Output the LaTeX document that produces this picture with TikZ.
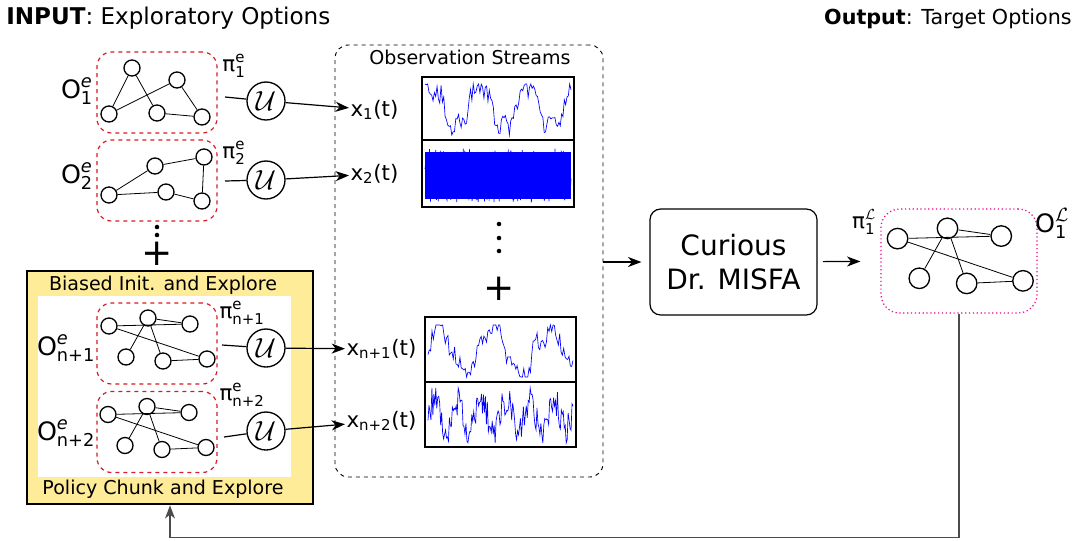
\documentclass[tikz,border=0pt]{standalone}
\usepackage{amsmath}
\usepackage{fontspec}
\setmainfont{DejaVu Sans}
\usetikzlibrary{arrows.meta, positioning, calc}

\definecolor{optred}{RGB}{214,26,34}
\definecolor{chunkyellow}{RGB}{255,236,153}
\newcommand{\optlbl}[3]{$\text{#1}^{\text{\itshape #2}}_{\text{#3}}$}

\begin{document}
\begin{tikzpicture}[x=0.75pt, y=-0.75pt,
    gnode/.style={circle, draw, line width=1pt, fill=white, minimum size=12pt, inner sep=0pt},
    gedge/.style={line width=0.6pt},
    optbox/.style={draw=optred, dashed, line width=0.9pt, rounded corners=11pt, minimum width=90pt, minimum height=60.75pt},
    ucirc/.style={circle, draw, line width=1pt, minimum size=28.5pt, inner sep=0pt, font=\fontsize{22}{22}\selectfont},
    flow/.style={-{Stealth[length=10pt, width=7.5pt, inset=3pt]}, line width=0.9pt},
    sig/.style={blue, line width=0.5pt},
    plotframe/.style={line width=1.4pt},
    olbl/.style={font=\fontsize{19}{22}\selectfont, inner sep=1pt},
    plbl/.style={font=\fontsize{16}{19}\selectfont, inner sep=1pt},
    captext/.style={font=\fontsize{14.3}{16}\selectfont, inner sep=1pt},
    plussign/.style={font=\fontsize{28}{28}\selectfont, inner sep=0pt},
    pics/chunkgraph/.style={code={
        \foreach \n/\p in {a/{-48,-17.5}, b/{-9,-25.5}, c/{33,-19.5}, d/{-31,13.5}, e/{6,17.5}, f/{50,15.5}}
            \node[gnode] (-\n) at (\p) {};
        \foreach \u/\v in {a/c, b/c, b/d, b/e, a/f, e/f}
            \draw[gedge] (-\u) -- (-\v);
    }}]
    \useasboundingbox (0,0) rectangle (1079,540);
    \pgfmathsetseed{42}

    % titles
    \node[anchor=base west, inner sep=0pt, font=\fontsize{17.3}{19}\selectfont] (intitle) at (6,24) {\textbf{INPUT}: Exploratory Options};
    \node[anchor=base east, inner sep=0pt, font=\fontsize{15.5}{18}\selectfont] (outtitle) at (1072,24) {\textbf{Output}: Target Options};

    % chunk box
    \node[draw, line width=1.9pt, fill=chunkyellow, minimum width=214.5pt, minimum height=174.75pt] (chunk) at (170,387.5) {};
    \fill[white] (38,296) rectangle (291,477);
    \node[captext] (biased) at (163,285) {Biased Init. and Explore};
    \node[captext] (policy) at (163,489) {Policy Chunk and Explore};

    % observation streams
    \node[draw, dashed, line width=0.7pt, rounded corners=10pt, minimum width=201pt, minimum height=324pt] (obs) at (469,261) {};
    \node[captext] (obstitle) at (470,57) {Observation Streams};

    % exploratory options
    \node[optbox] (box1) at (157,92.5) {};
    \node[optbox] (box2) at (157,180.5) {};
    \node[optbox] (box3) at (157,343.5) {};
    \node[optbox] (box4) at (157,432) {};

    \foreach \n/\p in {a/{132,68}, b/{177,80}, c/{109,114}, d/{157,113}, e/{202,117}}
        \node[gnode] (ga\n) at (\p) {};
    \foreach \u/\v in {a/c, a/d, c/b, b/e, d/e}
        \draw[gedge] (ga\u) -- (ga\v);

    \foreach \n/\p in {a/{155,166}, b/{204,157}, c/{109,195}, d/{166,192}, e/{202,201}}
        \node[gnode] (gb\n) at (\p) {};
    \foreach \u/\v in {c/a, a/b, b/e, c/d, d/e}
        \draw[gedge] (gb\u) -- (gb\v);

    \pic (gc) at (157,343.5) {chunkgraph};
    \pic (gd) at (156,432) {chunkgraph};

    \node[olbl] (o1) at (77,91) {\optlbl{O}{e}{1}};
    \node[olbl] (o2) at (77,176) {\optlbl{O}{e}{2}};
    \node[olbl] (o3) at (66,348) {\optlbl{O}{e}{n+1}};
    \node[olbl] (o4) at (66,433) {\optlbl{O}{e}{n+2}};

    \foreach \y in {227,235}
        \fill (157,\y) circle (1.7pt);
    \node[plussign] (plusa) at (157,254) {+};

    % policies
    \node[plbl] (p1) at (234,66) {$\text{π}^{\text{e}}_{\text{1}}$};
    \node[plbl] (p2) at (234,153) {$\text{π}^{\text{e}}_{\text{2}}$};
    \node[plbl] (p3) at (242,313) {$\text{π}^{\text{e}}_{\text{n+1}}$};
    \node[plbl] (p4) at (242,395) {$\text{π}^{\text{e}}_{\text{n+2}}$};

    \node[ucirc] (u1) at (266,101) {$\mathcal{U}$};
    \node[ucirc] (u2) at (266,180) {$\mathcal{U}$};
    \node[ucirc] (u3) at (266,348) {$\mathcal{U}$};
    \node[ucirc] (u4) at (266,431) {$\mathcal{U}$};

    \coordinate (s1) at (225,97);
    \coordinate (s2) at (225,181);
    \coordinate (s3) at (222,345);
    \coordinate (s4) at (224,437);
    \foreach \i in {1,...,4}
        \draw[line width=0.9pt] (s\i) -- (u\i);

    % streams
    \node[plbl, anchor=west] (x1) at (349,110) {$\text{x}_{\text{1}}\text{(t)}$};
    \node[plbl, anchor=west] (x2) at (349,174) {$\text{x}_{\text{2}}\text{(t)}$};
    \node[plbl, anchor=west] (x3) at (345,349) {$\text{x}_{\text{n+1}}\text{(t)}$};
    \node[plbl, anchor=west] (x4) at (345,421) {$\text{x}_{\text{n+2}}\text{(t)}$};
    \foreach \i in {1,...,4}
        \draw[flow] (u\i) -- (x\i);

    \draw[sig] plot[domain=425:571, samples=110] (\x, {max(84, min(135, 108 - 22*sin(7.5*(\x-425)+40) - 7*sin(23*\x) + 10*rand))});
    \fill[blue] (425,152) rectangle (571,199);
    \draw[sig] plot[domain=425:571, samples=420] (\x, {175.5 + 27*rand});
    \draw[sig] plot[domain=428:573, samples=110] (\x, {max(325, min(377, 350 - 22*sin(6.5*(\x-428)+20) - 7*sin(19*\x) + 10*rand))});
    \draw[sig] plot[domain=428:573, samples=150] (\x, {max(388, min(443, 415 - 16*sin(15*(\x-428)) + 16*rand))});
    \draw[plotframe] (422,77) rectangle (574,140);
    \draw[plotframe] (422,140) rectangle (574,207);
    \draw[plotframe] (425,317) rectangle (576,382);
    \draw[plotframe] (425,382) rectangle (576,447);

    \foreach \y in {224,238,251}
        \fill (499,\y) circle (1.7pt);
    \node[plussign] (plusb) at (499,289) {+};

    % learner and target option
    \node[draw, rounded corners=8pt, line width=0.9pt, minimum width=125.25pt, minimum height=79.5pt, align=center, font=\fontsize{21}{26}\selectfont] (cur) at (733.5,262) {Curious\\Dr. MISFA};
    \node[draw=magenta, dotted, line width=0.9pt, rounded corners=14pt, minimum width=117pt, minimum height=78pt] (tgt) at (959,261) {};
    \pic[scale=1.28, transform shape] (gt) at (959,261) {chunkgraph};
    \node[plbl] (pt) at (864,222) {$\text{π}^{\mathcal{L}}_{\text{1}}$};
    \node[olbl] (ot) at (1052,223) {$\text{O}^{\mathcal{L}}_{\text{1}}$};

    \draw[flow, shorten >=6pt] (obs.east |- cur) -- (cur);
    \draw[flow, shorten <=4pt, shorten >=15pt] (cur) -- (tgt);
    \draw[flow, black!70] (tgt.south) -- ++(0,224) -| (chunk.south);
\end{tikzpicture}
\end{document}
